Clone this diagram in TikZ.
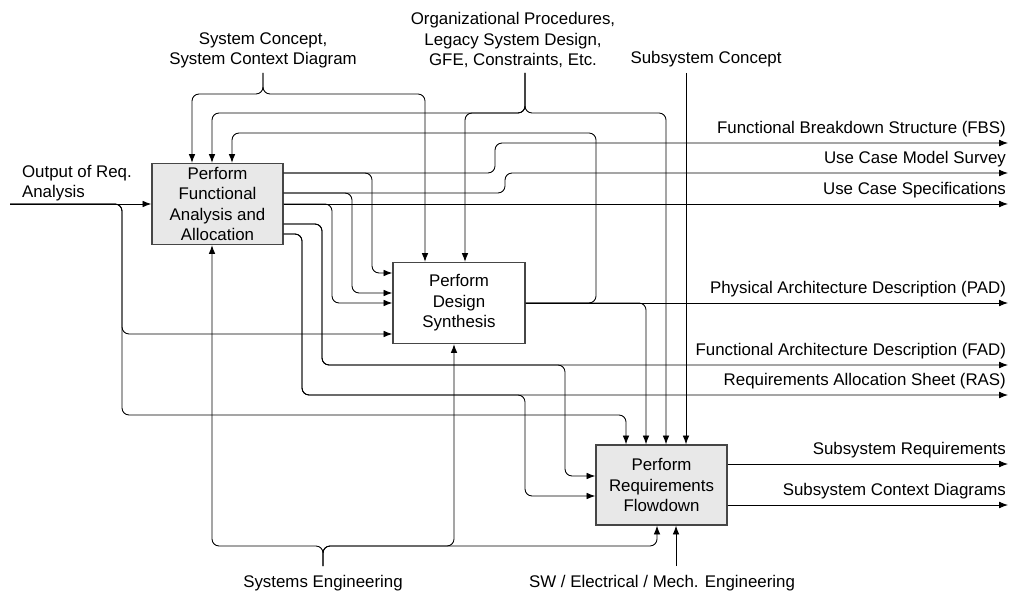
\documentclass[tikz,border=0pt]{standalone}
\usepackage{fontspec}
\setmainfont{Liberation Sans}
\usetikzlibrary{arrows.meta}
\tikzset{>={Latex[length=5pt,width=3.8pt]}}
\definecolor{boxgray}{RGB}{232,232,232}
\definecolor{boxline}{RGB}{70,70,70}
\tikzset{
  proc/.style={draw=boxline, line width=0.8pt, minimum width=2.62cm, minimum height=1.62cm, inner sep=0pt, align=center, font=\fontsize{9.6}{11.6}\selectfont},
  flow/.style={->, line width=0.5pt, rounded corners=4pt},
  lbl/.style={inner sep=1pt, font=\fontsize{9.6}{11.6}\selectfont}
}
\begin{document}
\begin{tikzpicture}[x=0.02cm, y=-0.02cm]
    \useasboundingbox (0,0) rectangle (1010,594);
    \node [proc, fill=boxgray](fa) at (217.5,204){Perform\\Functional\\Analysis and\\Allocation};
    \node [proc, fill=white, minimum width=2.64cm](ds) at (459,303){Perform\\Design\\Synthesis};
    \node [proc, fill=boxgray, minimum height=1.6cm](rf) at (661.5,485){Perform\\Requirements\\Flowdown};

    \node [lbl, align=left, anchor=north west](lin) at (20,163){Output of Req.\\Analysis};
    \node [lbl, align=center, anchor=south](lsc) at (263,70){System Concept,\\System Context Diagram};
    \node [lbl, align=center, anchor=south](lorg) at (513,70){Organizational Procedures,\\Legacy System Design,\\GFE, Constraints, Etc.};
    \node [lbl, anchor=south](lssc) at (706,69){Subsystem Concept};
    \node [lbl, anchor=north](lse) at (323,573){Systems Engineering};
    \node [lbl, anchor=north](lsw) at (662,573){SW / Electrical / Mech. Engineering};

    \coordinate (in) at (10,204);
    \coordinate (tsc) at (263,73);
    \coordinate (torg) at (525,73);
    \coordinate (tssc) at (686,73);
    \coordinate (tse) at (323,566);
    \coordinate (tsw) at (676,566);
    \coordinate (ofbs) at (1008,143);
    \coordinate (oucms) at (1008,173);
    \coordinate (oucs) at (1008,204);
    \coordinate (opad) at (1008,303);
    \coordinate (ofad) at (1008,365);
    \coordinate (oras) at (1008,395);
    \coordinate (osreq) at (1008,464);
    \coordinate (osctx) at (1008,505);

    \node [lbl, above left, yshift=2pt](lfbs) at (ofbs){Functional Breakdown Structure (FBS)};
    \node [lbl, above left, yshift=2pt](lucms) at (oucms){Use Case Model Survey};
    \node [lbl, above left, yshift=2pt](lucs) at (oucs){Use Case Specifications};
    \node [lbl, above left, yshift=2pt](lpad) at (opad){Physical Architecture Description (PAD)};
    \node [lbl, above left, yshift=2pt](lfad) at (ofad){Functional Architecture Description (FAD)};
    \node [lbl, above left, yshift=2pt](lras) at (oras){Requirements Allocation Sheet (RAS)};
    \node [lbl, above left, yshift=2pt](lsreq) at (osreq){Subsystem Requirements};
    \node [lbl, above left, yshift=2pt](lsctx) at (osctx){Subsystem Context Diagrams};

    \draw [flow] (in) -- (fa.west);
    \draw [flow] (in) -| (122,334) -- (ds.west |- 0,334);
    \draw [flow] (in) -| (122,415) -| (rf.north -| 626,0);

    \draw [flow] (tsc) -- (263,94) -| (fa.north -| 192,0);
    \draw [flow] (tsc) -- (263,94) -| (ds.north -| 425,0);
    \draw [flow] (torg) -- (525,113) -| (fa.north -| 212,0);
    \draw [flow] (torg) -- (525,113) -| (ds.north -| 465,0);
    \draw [flow] (torg) -- (525,113) -| (rf.north -| 666,0);
    \draw [flow] (tssc) -- (rf.north -| 686,0);

    \draw [flow] (fa.east |- 0,173) -| (372,273) -- (ds.west |- 0,273);
    \draw [flow] (fa.east |- 0,173) -- (495,173) -- (495,143) -- (ofbs);
    \draw [flow] (fa.east |- 0,193) -| (352,293) -- (ds.west |- 0,293);
    \draw [flow] (fa.east |- 0,193) -- (505,193) -- (505,173) -- (oucms);
    \draw [flow] (fa.east) -| (332,303) -- (ds.west);
    \draw [flow] (fa.east) -- (oucs);
    \draw [flow] (fa.east |- 0,224) -| (322,365) -- (ofad);
    \draw [flow] (fa.east |- 0,224) -| (322,365) -| (565,476) -- (rf.west |- 0,476);
    \draw [flow] (fa.east |- 0,234) -| (302,395) -- (oras);
    \draw [flow] (fa.east |- 0,234) -| (302,395) -| (525,496) -- (rf.west |- 0,496);

    \draw [flow] (ds.east) -- (opad);
    \draw [flow] (ds.east) -| (rf.north -| 646,0);
    \draw [flow] (ds.east) -| (596,133) -| (fa.north -| 232,0);

    \draw [flow] (tse) -- (323,546) -| (fa.south -| 212,0);
    \draw [flow] (tse) -- (323,546) -| (ds.south -| 454,0);
    \draw [flow] (tse) -- (323,546) -| (rf.south -| 657,0);
    \draw [flow] (tsw) -- (rf.south -| 676,0);

    \draw [flow] (rf.east |- 0,464) -- (osreq);
    \draw [flow] (rf.east |- 0,505) -- (osctx);
  \end{tikzpicture}
\end{document}
